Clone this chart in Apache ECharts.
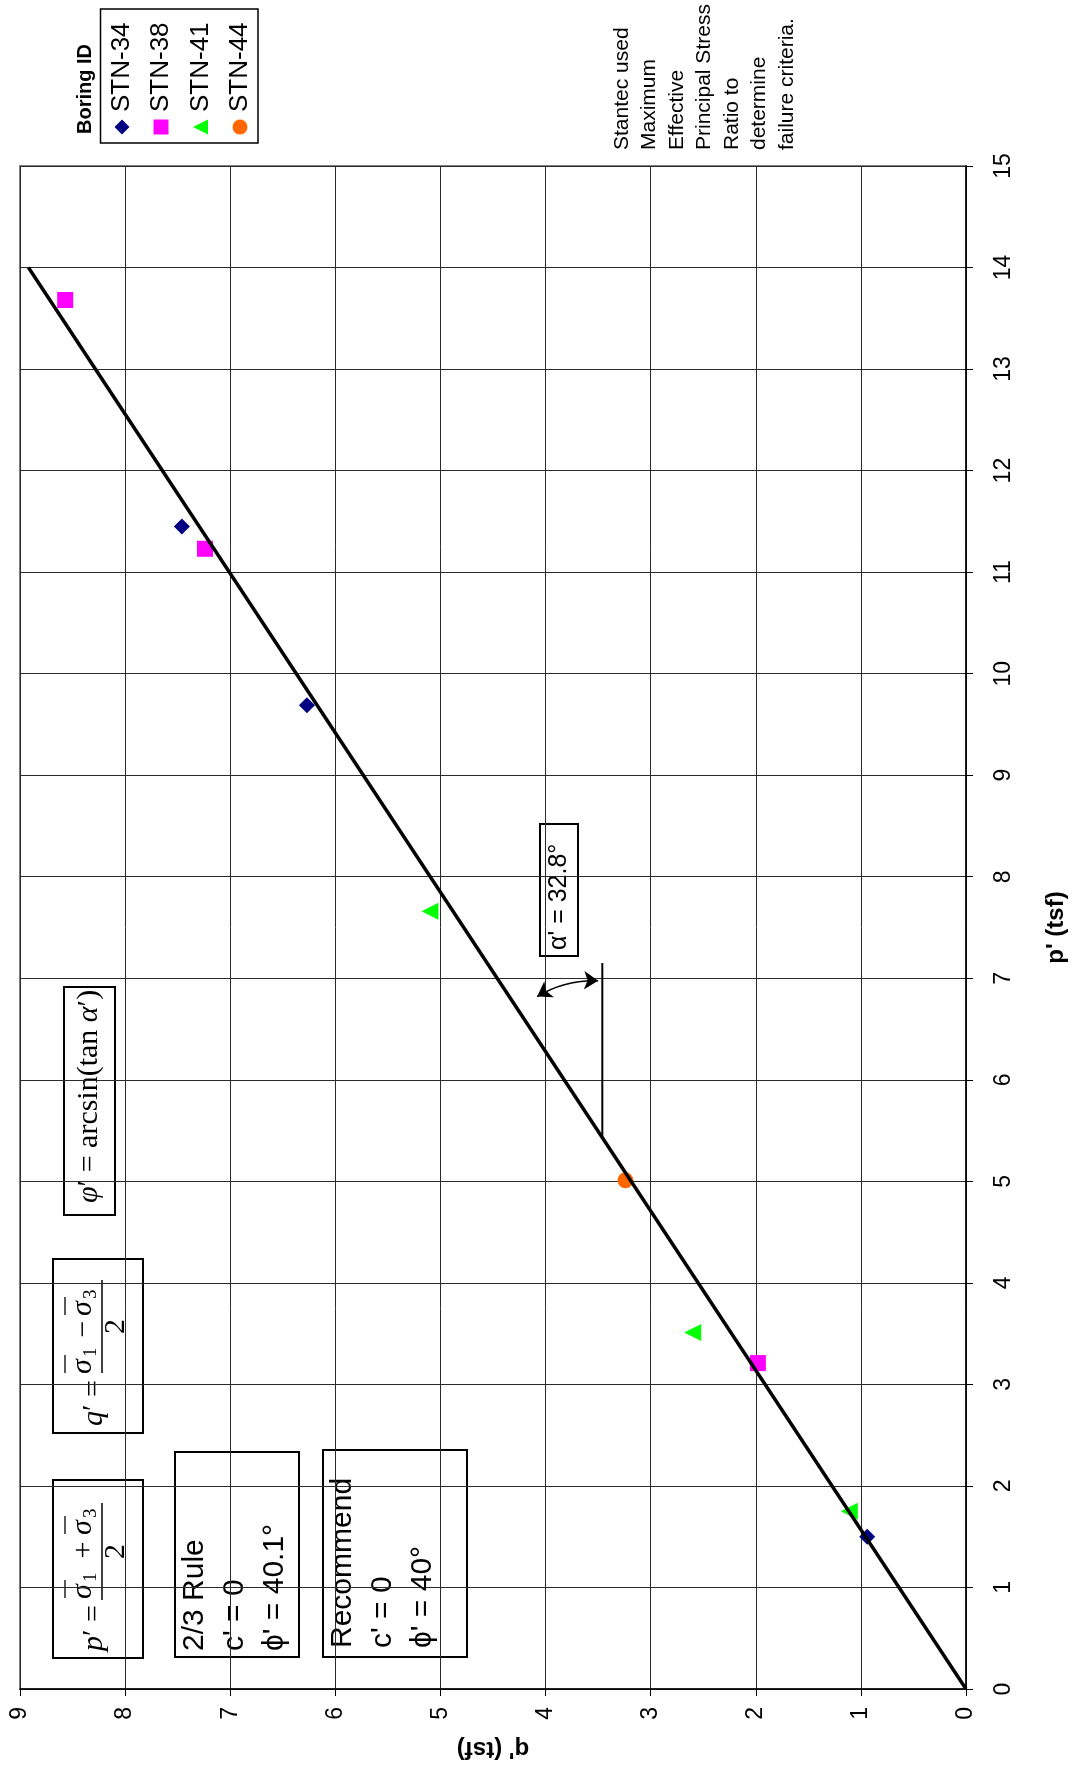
<!DOCTYPE html>
<html><head><meta charset="utf-8">
<script src="https://cdn.jsdelivr.net/npm/echarts@6.0.0/dist/echarts.min.js"></script>
<style>html,body{margin:0;padding:0;background:#fff}#c{width:1073px;height:1765px}</style>
</head><body><div id="c"></div>
<script>
// q' (tsf) horizontal (inverted), p' (tsf) vertical — chart is drawn rotated
const stn34_q = [0.94, 6.27, 7.46];
const stn34_p = [1.50, 9.69, 11.45];
const stn38_q = [1.98, 7.24, 8.57];
const stn38_p = [3.21, 11.23, 13.68];
const stn41_q = [1.11, 2.60, 5.10];
const stn41_p = [1.75, 3.51, 7.66];
const stn44_q = [3.24];
const stn44_p = [5.01];
const fit_q = [0, 8.92];
const fit_p = [0, 14.0];
const ref_q = [3.46, 3.46];
const ref_p = [5.44, 7.15];
const arc_q = [4.08, 3.50];
const arc_p = [6.82, 6.975];
const seriesNames = ['STN-34', 'STN-38', 'STN-41', 'STN-44'];
const seriesColors = ['#000080', '#FF00FF', '#00FF00', '#FF6600'];
const noteLines = ['Stantec used', 'Maximum', 'Effective', 'Principal Stress', 'Ratio to', 'determine', 'failure criteria.'];
const rule23Lines = ['2/3 Rule', "c' = 0", "\u03D5' = 40.1\u00B0"];
const recLines = ['Recommend', "c' = 0", "\u03D5' = 40\u00B0"];
const alphaText = "\u03B1' = 32.8\u00B0";

const zip = (a, b) => a.map((v, i) => [v, b[i]]);
const SANS = 'Liberation Sans';
const SERIF = 'Liberation Serif';
const R = Math.PI / 2;

function txt(x, y, text, font, align, valign, extra) {
  return Object.assign({ type: 'text', x: x, y: y, style: Object.assign({ text: text, font: font, fill: '#000',
    align: align, verticalAlign: valign, textAlign: align, textVerticalAlign: valign }, extra || {}) });
}
function hline(x1, x2, y, w) {
  return { type: 'line', shape: { x1: x1, y1: y, x2: x2, y2: y }, style: { stroke: '#000', lineWidth: w || 1.3 } };
}
// box drawn in rotated frame: local x -> screen up, local y -> screen right
function box(left, top, right, bottom, children) {
  return { type: 'group', x: left, y: bottom, rotation: R, z: 100, children: [
    { type: 'rect', shape: { x: 0, y: 0, width: bottom - top, height: right - left }, style: { fill: '#fff', stroke: '#000', lineWidth: 2 } }
  ].concat(children) };
}
const f30 = '30px ' + SERIF, f30i = 'italic 30px ' + SERIF, f19 = '19px ' + SERIF;
function fraction(lead, op, barStart, barEnd, s1x, opx, s2x) {
  return [
    txt(7, 41, lead, f30, 'left', 'middle', { rich: { i: { fontStyle: 'italic', fontFamily: SERIF, fontSize: 30 } } }),
    hline(barStart, barEnd, 49, 1.5),
    txt(s1x, 30, '\u03C3', f30i, 'left', 'middle'),
    txt(s1x + 17, 38, '1', f19, 'left', 'middle'),
    txt(opx, 31, op, f30, 'center', 'middle'),
    txt(s2x, 30, '\u03C3', f30i, 'left', 'middle'),
    txt(s2x + 17, 38, '3', f19, 'left', 'middle'),
    hline(s1x + 1, s1x + 19, 12), hline(s2x + 1, s2x + 19, 12),
    txt((barStart + barEnd) / 2, 63, '2', f30, 'center', 'middle')
  ];
}

const graphics = [
  box(53, 1480, 143, 1658, fraction('{i|p}\u2032 =', '+', 58, 155, 59, 108, 123)),
  box(53, 1259, 143, 1433, fraction('{i|q}\u2032 =', '\u2212', 60, 153, 59, 104, 117)),
  box(64, 987, 115, 1215, [txt(12, 25, '{i|\u03C6}\u2032 = arcsin(tan {i|\u03B1}\u2032)', f30, 'left', 'middle',
      { rich: { i: { fontStyle: 'italic', fontFamily: SERIF, fontSize: 30 } } })]),
  box(175, 1452, 299, 1657, [txt(6, 0, rule23Lines.join('\n'), '30px ' + SANS, 'left', 'top', { lineHeight: 40 })]),
  box(323, 1450, 467, 1657, [txt(9, 0, recLines.join('\n'), '30px ' + SANS, 'left', 'top', { lineHeight: 40 })]),
  box(540, 824, 578, 956, [txt(6, 19, alphaText, '25px ' + SANS, 'left', 'middle')]),
  { type: 'group', x: 608, y: 150, rotation: R, children: [txt(0, 0, noteLines.join('\n'), '21px ' + SANS, 'left', 'top', { lineHeight: 27.5 })] },
  { type: 'rect', shape: { x: 100.5, y: 9, width: 157.5, height: 134 }, style: { fill: 'none', stroke: '#000', lineWidth: 1.5 } },
  Object.assign(txt(85, 134, 'Boring ID', 'bold 20px ' + SANS, 'left', 'middle'), { rotation: R })
];
const legX = [122, 161, 200.5, 240];
seriesNames.forEach((n, i) => graphics.push(Object.assign(txt(legX[i], 112, n, '26px ' + SANS, 'left', 'middle'), { rotation: R })));
graphics.push({ type: 'polygon', shape: { points: [[122, 119.5], [129.5, 127], [122, 134.5], [114.5, 127]] }, style: { fill: seriesColors[0] } });
graphics.push({ type: 'rect', shape: { x: 153.5, y: 119.5, width: 15, height: 15 }, style: { fill: seriesColors[1] } });
graphics.push({ type: 'polygon', shape: { points: [[193, 127], [208, 119.5], [208, 134.5]] }, style: { fill: seriesColors[2] } });
graphics.push({ type: 'circle', shape: { cx: 240, cy: 127, r: 7.5 }, style: { fill: seriesColors[3] } });

const axisFont = { fontFamily: SANS, fontSize: 23, color: '#000' };
const nameFont = { fontFamily: SANS, fontSize: 24, fontWeight: 'bold', color: '#000' };
const chart = echarts.init(document.getElementById('c'), null, { renderer: 'canvas' });
chart.setOption({
  backgroundColor: '#fff',
  animation: false,
  grid: { left: 20, right: 107, top: 166, bottom: 76, show: true, borderColor: '#808080', borderWidth: 2, containLabel: false, outerBoundsMode: 'none' },
  xAxis: {
    type: 'value', min: 0, max: 9, interval: 1, inverse: true, position: 'bottom',
    name: "q' (tsf)", nameLocation: 'middle', nameGap: 48, nameRotate: 180, nameTextStyle: nameFont,
    axisLine: { show: true, onZero: false, lineStyle: { color: '#000', width: 1.5 } },
    axisTick: { show: true, length: 7, lineStyle: { color: '#000' } },
    axisLabel: Object.assign({ rotate: 90, margin: 18 }, axisFont),
    splitLine: { show: true, lineStyle: { color: '#2a2a2a', width: 1 } }
  },
  yAxis: {
    type: 'value', min: 0, max: 15, interval: 1, position: 'right',
    name: "p' (tsf)", nameLocation: 'middle', nameGap: 78, nameRotate: 90, nameTextStyle: nameFont,
    axisLine: { show: true, onZero: false, lineStyle: { color: '#000', width: 1.5 } },
    axisTick: { show: true, length: 7, lineStyle: { color: '#000' } },
    axisLabel: Object.assign({ rotate: 90, margin: 26 }, axisFont),
    splitLine: { show: true, lineStyle: { color: '#2a2a2a', width: 1 } }
  },
  graphic: graphics,
  series: [
    { name: seriesNames[0], type: 'scatter', z: 2, symbol: 'diamond', symbolSize: 16, itemStyle: { color: seriesColors[0], opacity: 1 }, data: zip(stn34_q, stn34_p) },
    { name: seriesNames[1], type: 'scatter', z: 2, symbol: 'rect', symbolSize: 16, itemStyle: { color: seriesColors[1], opacity: 1 }, data: zip(stn38_q, stn38_p) },
    { name: seriesNames[2], type: 'scatter', z: 2, symbol: 'triangle', symbolRotate: 90, symbolSize: 17, itemStyle: { color: seriesColors[2], opacity: 1 }, data: zip(stn41_q, stn41_p) },
    { name: seriesNames[3], type: 'scatter', z: 2, symbol: 'circle', symbolSize: 16, itemStyle: { color: seriesColors[3], opacity: 1 }, data: zip(stn44_q, stn44_p) },
    { name: 'fit', type: 'line', z: 3, showSymbol: false, symbol: 'none', lineStyle: { color: '#000', width: 3.5 }, data: zip(fit_q, fit_p) },
    { name: 'ref', type: 'line', z: 3, showSymbol: false, symbol: 'none', lineStyle: { color: '#000', width: 2 }, data: zip(ref_q, ref_p) },
    { name: 'angle', type: 'lines', coordinateSystem: 'cartesian2d', z: 3, symbol: ['arrow', 'arrow'], symbolSize: 14,
      lineStyle: { color: '#000', width: 1.5, curveness: 0.15, opacity: 1 }, data: [{ coords: zip(arc_q, arc_p) }] }
  ]
});
</script></body></html>
